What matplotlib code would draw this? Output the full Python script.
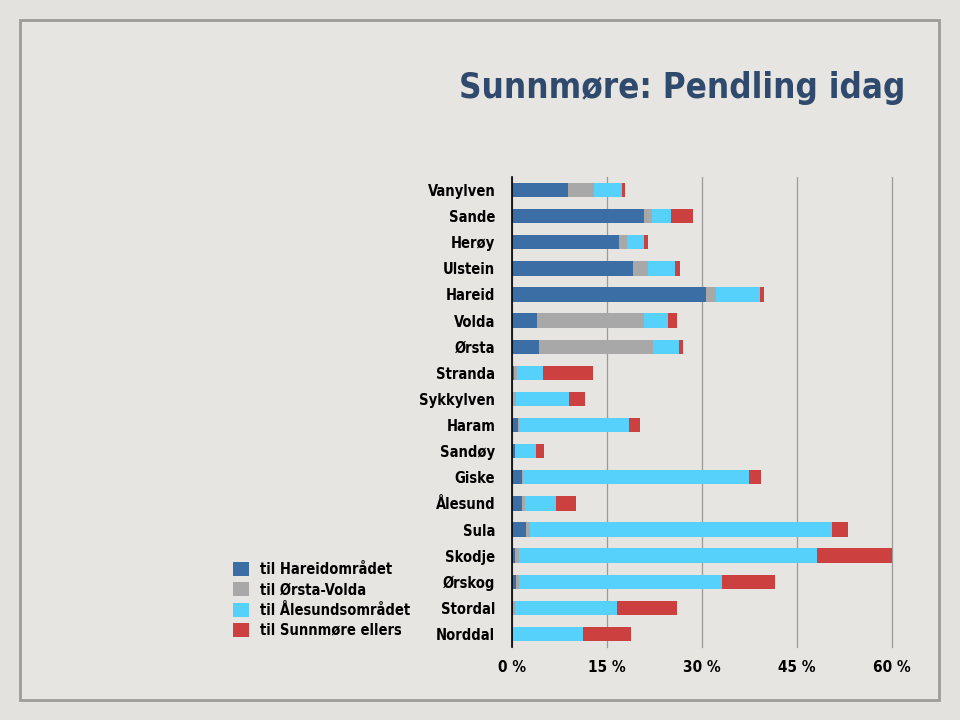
import numpy as np
import matplotlib.pyplot as plt
from matplotlib.patches import Patch, Rectangle

# kommunar (frå topp til botn)
kommunar = ["Vanylven", "Sande", "Herøy", "Ulstein", "Hareid", "Volda", "Ørsta",
            "Stranda", "Sykkylven", "Haram", "Sandøy", "Giske", "Ålesund", "Sula",
            "Skodje", "Ørskog", "Stordal", "Norddal"]

# prosent pendlarar til kvar region
til_hareid = [8.9, 20.9, 16.9, 19.1, 30.7, 3.9, 4.2, 0.3, 0.1, 1.0, 0.4, 1.6, 1.55, 2.2, 0.5, 0.7, 0.15, 0.1]
til_orsta_volda = [4.1, 1.2, 1.3, 2.4, 1.5, 17.0, 18.1, 0.5, 0.5, 0.1, 0.05, 0.2, 0.45, 0.6, 0.6, 0.4, 0.35, 0.1]
til_alesund = [4.4, 3.0, 2.7, 4.2, 6.9, 3.7, 4.1, 4.1, 8.4, 17.4, 3.35, 35.6, 4.9, 47.8, 47.1, 32.1, 16.1, 11.0]
til_ellers = [0.4, 3.4, 0.6, 0.8, 0.7, 1.4, 0.6, 7.9, 2.5, 1.7, 1.3, 1.9, 3.2, 2.4, 11.8, 8.3, 9.4, 7.6]

serie_namn = ["til Hareidområdet", "til Ørsta-Volda", "til Ålesundsområdet", "til Sunnmøre ellers"]
fargar = ["#3b6ea5", "#a8a8a8", "#55d1fb", "#cc4040"]
xticks = [0, 15, 30, 45, 60]

plt.rcParams['font.family'] = ['DejaVu Sans']
plt.rcParams['font.stretch'] = 'condensed'
plt.rcParams['font.weight'] = 'bold'

fig = plt.figure(figsize=(9.6, 7.2), dpi=100, facecolor="#e3e2de")

# ramme
fig.patches.append(Rectangle((20 / 960, 1 - 700 / 720), 919 / 960, 680 / 720,
                             transform=fig.transFigure, facecolor="#e6e5e1",
                             edgecolor="#9c9c9a", linewidth=2, zorder=-5))

fig.text(905 / 960, 1 - 88 / 720, "Sunnmøre: Pendling idag", ha="right", va="center",
         fontsize=25, fontweight="bold", color="#2f4a6d")

ax = fig.add_axes([512 / 960, 1 - 647 / 720, 380 / 960, 470 / 720])
ax.set_facecolor("none")

y = np.arange(len(kommunar))
venstre = np.zeros(len(kommunar))
for verdiar, farge, namn in zip([til_hareid, til_orsta_volda, til_alesund, til_ellers], fargar, serie_namn):
    ax.barh(y, verdiar, left=venstre, height=0.55, color=farge, label=namn, zorder=3)
    venstre += np.array(verdiar)

ax.set_ylim(len(kommunar) - 0.5, -0.5)
ax.set_xlim(0, 60)
ax.set_xticks(xticks)
ax.set_xticklabels([f"{t} %" for t in xticks], fontsize=11, fontweight="bold")
ax.set_yticks(y)
ax.set_yticklabels(kommunar, fontsize=10.5, fontweight="bold")
ax.tick_params(axis="x", length=0, pad=9)
ax.tick_params(axis="y", length=0, pad=12)
ax.xaxis.grid(True, color="#9a9a9a", linewidth=0.9, zorder=0)
for gl in ax.get_xgridlines():
    gl.set_clip_on(False)
for s in ["top", "right", "bottom"]:
    ax.spines[s].set_visible(False)
ax.spines["left"].set_color("black")
ax.spines["left"].set_linewidth(1.2)
ax.spines["left"].set_zorder(4)

handles = [Patch(facecolor=f, edgecolor="none") for f in fargar]
fig.legend(handles, serie_namn, loc="center left", bbox_to_anchor=(220 / 960, 1 - 600 / 720),
           frameon=False, handlelength=1.1, handleheight=1.1, handletextpad=0.75,
           labelspacing=0.35, prop={"size": 10.5, "weight": "bold", "stretch": "condensed"})

fig.savefig("out.png", dpi=100, facecolor=fig.get_facecolor())
